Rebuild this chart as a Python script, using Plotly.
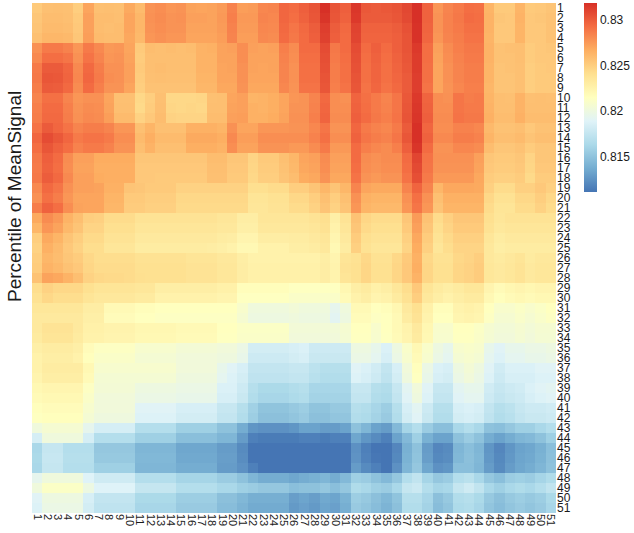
import numpy as np
import plotly.graph_objects as go

# Mean signal values, in units of 1e-4
# (row 1 = top row "1", column 1 = left column "1").
MEAN_SIGNAL_E4 = [
    [8252,8257,8258,8257,8250,8270,8257,8258,8257,8268,8260,8277,8279,8276,8277,8271,8270,8271,8274,8284,8273,8274,8282,8283,8295,8293,8298,8303,8318,8303,8298,8315,8301,8300,8301,8303,8308,8318,8297,8276,8283,8287,8292,8291,8263,8252,8252,8263,8252,8253,8255],
    [8254,8259,8259,8258,8252,8272,8259,8259,8258,8270,8262,8278,8280,8277,8278,8272,8272,8271,8275,8285,8275,8275,8283,8282,8295,8292,8297,8302,8316,8302,8297,8314,8300,8300,8300,8302,8307,8318,8297,8277,8284,8288,8293,8292,8264,8254,8253,8264,8253,8254,8256],
    [8255,8260,8260,8259,8253,8272,8259,8258,8259,8270,8262,8277,8279,8277,8277,8271,8271,8271,8274,8284,8274,8274,8282,8281,8294,8289,8294,8299,8312,8299,8294,8310,8297,8297,8297,8299,8304,8317,8296,8277,8284,8287,8291,8291,8264,8253,8253,8263,8253,8253,8256],
    [8257,8262,8262,8261,8254,8273,8260,8259,8259,8269,8261,8276,8278,8276,8276,8270,8270,8270,8273,8283,8273,8273,8281,8280,8293,8288,8293,8298,8311,8298,8293,8309,8296,8296,8296,8298,8303,8317,8295,8276,8283,8286,8290,8290,8263,8253,8253,8263,8253,8253,8256],
    [8278,8287,8287,8284,8276,8287,8281,8275,8276,8270,8252,8259,8258,8259,8258,8259,8264,8265,8271,8272,8279,8272,8271,8272,8285,8280,8293,8293,8306,8288,8293,8306,8293,8298,8293,8298,8303,8314,8292,8272,8280,8285,8288,8288,8264,8256,8257,8258,8251,8253,8254],
    [8281,8292,8292,8289,8278,8290,8283,8276,8277,8271,8251,8258,8258,8258,8258,8258,8264,8264,8271,8271,8279,8271,8271,8271,8284,8279,8292,8292,8305,8287,8292,8305,8292,8297,8292,8297,8302,8313,8292,8271,8279,8284,8287,8287,8264,8256,8256,8258,8251,8253,8253],
    [8287,8300,8300,8295,8281,8294,8286,8278,8278,8272,8252,8258,8259,8258,8258,8258,8264,8264,8270,8271,8278,8271,8270,8271,8283,8278,8291,8291,8304,8286,8291,8304,8291,8296,8291,8296,8301,8313,8291,8270,8278,8283,8286,8286,8263,8255,8256,8257,8250,8252,8253],
    [8288,8302,8301,8296,8282,8295,8287,8279,8278,8272,8251,8257,8258,8257,8257,8257,8263,8263,8270,8270,8278,8270,8270,8270,8283,8278,8291,8291,8303,8286,8291,8303,8291,8296,8291,8295,8300,8312,8291,8270,8278,8283,8286,8286,8263,8255,8255,8257,8250,8252,8252],
    [8286,8300,8299,8294,8280,8293,8285,8277,8277,8270,8250,8256,8256,8256,8256,8256,8262,8262,8269,8269,8277,8269,8269,8269,8282,8277,8290,8290,8302,8285,8290,8302,8290,8295,8290,8294,8300,8312,8290,8270,8277,8282,8285,8285,8262,8255,8255,8257,8250,8252,8252],
    [8283,8291,8291,8283,8276,8278,8278,8270,8257,8257,8245,8250,8257,8245,8245,8245,8246,8257,8258,8270,8272,8263,8264,8266,8270,8276,8277,8283,8294,8279,8278,8296,8291,8287,8283,8289,8301,8314,8296,8279,8278,8289,8286,8287,8263,8258,8257,8264,8257,8258,8257],
    [8285,8293,8293,8285,8277,8280,8279,8271,8258,8258,8244,8251,8258,8246,8245,8246,8245,8258,8258,8271,8272,8265,8264,8266,8270,8277,8277,8284,8295,8279,8279,8297,8292,8287,8284,8289,8302,8315,8297,8279,8279,8289,8287,8287,8264,8258,8258,8264,8258,8258,8258],
    [8286,8294,8294,8286,8278,8281,8280,8273,8260,8260,8248,8253,8259,8248,8247,8247,8247,8259,8259,8272,8273,8265,8265,8267,8271,8278,8278,8285,8296,8280,8280,8298,8293,8288,8285,8290,8303,8316,8298,8280,8280,8290,8288,8288,8265,8259,8259,8265,8259,8259,8259],
    [8290,8300,8295,8290,8283,8286,8286,8283,8276,8276,8257,8263,8257,8257,8257,8265,8265,8265,8263,8278,8270,8270,8276,8276,8276,8277,8277,8282,8289,8277,8277,8295,8287,8284,8282,8287,8300,8318,8295,8279,8279,8284,8284,8282,8261,8256,8256,8258,8253,8256,8256],
    [8295,8306,8301,8295,8287,8290,8290,8287,8279,8279,8260,8266,8260,8260,8260,8268,8268,8268,8266,8281,8273,8273,8279,8279,8279,8279,8279,8284,8291,8279,8279,8297,8289,8286,8284,8289,8302,8319,8297,8281,8281,8286,8286,8284,8263,8258,8258,8260,8255,8258,8258],
    [8292,8302,8297,8292,8284,8287,8287,8284,8277,8277,8258,8264,8258,8258,8258,8266,8266,8266,8264,8279,8271,8271,8277,8277,8277,8275,8275,8280,8287,8275,8275,8293,8285,8282,8280,8285,8298,8316,8293,8277,8277,8282,8282,8280,8259,8254,8254,8256,8251,8254,8254],
    [8288,8298,8293,8280,8272,8272,8267,8267,8267,8267,8254,8254,8254,8254,8254,8254,8254,8259,8259,8254,8254,8247,8252,8252,8257,8262,8270,8272,8280,8272,8272,8293,8280,8278,8280,8280,8293,8309,8290,8278,8278,8278,8278,8272,8254,8252,8252,8254,8247,8254,8254],
    [8287,8297,8292,8279,8271,8271,8266,8266,8266,8266,8253,8253,8253,8253,8253,8253,8253,8258,8258,8253,8253,8246,8251,8251,8256,8261,8269,8271,8279,8271,8271,8292,8279,8277,8279,8279,8292,8307,8289,8277,8277,8277,8277,8271,8253,8251,8251,8253,8246,8253,8253],
    [8288,8299,8294,8281,8272,8272,8267,8266,8266,8266,8253,8253,8252,8252,8252,8252,8252,8257,8257,8252,8252,8245,8250,8250,8255,8259,8267,8269,8277,8269,8269,8290,8277,8275,8277,8277,8290,8305,8287,8275,8275,8275,8275,8269,8251,8249,8249,8251,8244,8251,8251],
    [8281,8294,8289,8278,8272,8272,8271,8265,8265,8255,8254,8252,8252,8252,8248,8248,8248,8248,8248,8248,8248,8241,8241,8243,8243,8250,8250,8255,8262,8255,8262,8283,8270,8268,8268,8268,8283,8296,8283,8262,8269,8269,8269,8268,8249,8243,8243,8249,8249,8253,8249],
    [8278,8291,8286,8276,8270,8270,8270,8263,8263,8252,8252,8250,8250,8250,8245,8245,8245,8245,8245,8245,8245,8237,8237,8239,8239,8245,8245,8250,8257,8250,8257,8278,8265,8263,8263,8263,8278,8291,8278,8257,8265,8265,8265,8265,8245,8239,8239,8245,8245,8250,8245],
    [8286,8297,8292,8279,8271,8270,8270,8262,8262,8251,8251,8249,8249,8249,8244,8244,8244,8244,8244,8244,8244,8236,8236,8238,8238,8243,8243,8248,8255,8248,8255,8276,8263,8261,8261,8261,8276,8289,8276,8255,8263,8263,8263,8263,8243,8237,8237,8243,8243,8248,8243],
    [8268,8280,8275,8264,8258,8250,8249,8243,8243,8243,8238,8238,8238,8238,8238,8238,8238,8238,8236,8236,8230,8230,8236,8236,8236,8236,8236,8238,8241,8228,8238,8256,8246,8243,8243,8243,8254,8274,8256,8243,8249,8254,8254,8254,8241,8236,8238,8238,8238,8238,8238],
    [8262,8276,8271,8261,8255,8247,8247,8241,8241,8241,8236,8236,8236,8236,8236,8236,8236,8236,8234,8234,8228,8228,8234,8234,8234,8234,8234,8236,8239,8226,8236,8254,8244,8241,8241,8241,8252,8272,8254,8241,8247,8252,8252,8252,8239,8234,8236,8236,8236,8236,8236],
    [8250,8268,8263,8255,8250,8244,8244,8238,8238,8238,8233,8233,8233,8233,8233,8233,8233,8233,8231,8230,8224,8224,8230,8230,8230,8231,8231,8233,8236,8223,8233,8251,8241,8238,8238,8238,8249,8269,8251,8238,8244,8249,8249,8249,8236,8231,8233,8233,8233,8233,8233],
    [8248,8265,8260,8253,8248,8242,8242,8236,8236,8236,8231,8231,8231,8231,8231,8231,8231,8230,8228,8226,8221,8221,8226,8226,8226,8229,8229,8231,8234,8221,8231,8249,8239,8236,8236,8236,8247,8267,8249,8236,8242,8247,8247,8247,8234,8229,8231,8231,8231,8231,8231],
    [8250,8262,8259,8254,8251,8245,8242,8242,8242,8242,8239,8239,8239,8239,8239,8237,8237,8237,8234,8234,8229,8226,8226,8226,8226,8226,8226,8226,8229,8224,8237,8239,8245,8239,8239,8245,8252,8265,8245,8239,8239,8245,8247,8250,8234,8232,8234,8237,8232,8234,8234],
    [8251,8264,8261,8256,8253,8246,8243,8243,8243,8243,8240,8240,8240,8240,8240,8238,8238,8238,8235,8235,8230,8227,8227,8227,8227,8227,8227,8227,8230,8225,8238,8240,8246,8240,8240,8246,8253,8266,8246,8240,8240,8246,8248,8251,8235,8233,8235,8238,8233,8235,8235],
    [8256,8271,8269,8264,8258,8248,8245,8244,8244,8243,8241,8240,8240,8240,8240,8238,8238,8238,8235,8235,8230,8227,8227,8227,8227,8227,8227,8227,8230,8225,8237,8240,8246,8240,8240,8246,8253,8264,8246,8240,8240,8246,8248,8251,8235,8233,8235,8238,8233,8235,8235],
    [8242,8248,8245,8245,8245,8240,8237,8237,8237,8237,8235,8235,8229,8229,8229,8229,8229,8229,8227,8227,8217,8217,8217,8217,8217,8214,8214,8214,8214,8214,8222,8229,8232,8227,8229,8235,8242,8253,8237,8232,8229,8232,8235,8235,8224,8219,8222,8224,8222,8224,8224],
    [8239,8245,8242,8242,8242,8237,8234,8234,8234,8234,8232,8232,8226,8226,8226,8226,8226,8226,8224,8224,8214,8214,8214,8214,8214,8211,8211,8211,8211,8211,8219,8226,8229,8224,8226,8232,8239,8250,8234,8229,8226,8229,8232,8232,8221,8216,8219,8221,8219,8221,8221],
    [8235,8235,8235,8235,8235,8230,8230,8220,8220,8220,8217,8217,8215,8215,8215,8215,8215,8215,8215,8215,8209,8202,8202,8202,8202,8204,8202,8202,8202,8194,8202,8220,8220,8215,8217,8222,8233,8240,8227,8217,8217,8225,8227,8225,8215,8209,8209,8212,8209,8212,8215],
    [8233,8233,8233,8233,8233,8228,8228,8218,8218,8218,8215,8215,8213,8213,8213,8213,8213,8213,8213,8213,8207,8200,8200,8200,8200,8202,8200,8200,8200,8192,8200,8218,8218,8213,8215,8220,8231,8238,8225,8215,8215,8223,8225,8223,8213,8207,8207,8210,8207,8210,8213],
    [8233,8238,8238,8238,8233,8227,8227,8225,8225,8225,8222,8222,8222,8222,8220,8220,8220,8220,8215,8215,8212,8212,8212,8212,8212,8204,8204,8204,8204,8204,8207,8215,8215,8209,8215,8220,8225,8233,8222,8209,8209,8215,8215,8212,8207,8204,8204,8207,8204,8207,8207],
    [8232,8237,8237,8237,8232,8226,8226,8224,8224,8224,8221,8221,8221,8221,8219,8219,8219,8219,8214,8214,8211,8211,8211,8211,8211,8203,8203,8203,8203,8203,8206,8214,8214,8208,8214,8219,8224,8232,8221,8208,8208,8214,8214,8211,8206,8203,8203,8206,8203,8206,8206],
    [8228,8231,8231,8231,8228,8218,8213,8213,8213,8213,8208,8208,8208,8208,8205,8205,8205,8205,8203,8203,8198,8183,8183,8183,8183,8185,8187,8180,8180,8180,8180,8200,8200,8195,8187,8200,8210,8221,8210,8200,8195,8208,8210,8208,8195,8190,8195,8195,8198,8198,8200],
    [8226,8229,8229,8229,8226,8216,8211,8211,8211,8211,8206,8206,8206,8206,8203,8203,8203,8203,8201,8201,8196,8180,8180,8180,8180,8183,8185,8178,8178,8178,8178,8198,8198,8193,8185,8198,8208,8219,8208,8198,8193,8206,8208,8206,8193,8188,8193,8193,8196,8196,8198],
    [8226,8231,8231,8231,8231,8221,8208,8208,8208,8208,8208,8208,8208,8208,8203,8203,8203,8203,8195,8190,8185,8175,8175,8175,8175,8177,8177,8172,8169,8169,8169,8190,8187,8182,8175,8185,8203,8216,8198,8187,8185,8200,8205,8200,8190,8182,8187,8187,8187,8190,8190],
    [8224,8229,8229,8229,8229,8219,8206,8206,8206,8206,8206,8206,8206,8206,8201,8201,8201,8201,8193,8188,8183,8173,8173,8173,8173,8175,8175,8170,8167,8167,8167,8188,8185,8180,8173,8183,8201,8214,8196,8185,8183,8198,8203,8198,8188,8180,8185,8185,8185,8188,8188],
    [8221,8223,8223,8223,8223,8213,8205,8205,8205,8205,8200,8200,8200,8200,8198,8198,8198,8198,8187,8187,8180,8169,8164,8164,8164,8167,8169,8162,8162,8162,8162,8177,8177,8169,8167,8177,8192,8203,8190,8177,8177,8192,8195,8195,8182,8177,8180,8182,8187,8190,8192],
    [8219,8221,8221,8221,8221,8211,8203,8203,8203,8203,8198,8198,8198,8198,8196,8196,8196,8196,8185,8185,8178,8167,8162,8162,8162,8165,8167,8160,8160,8160,8160,8175,8175,8167,8165,8175,8190,8201,8188,8175,8175,8190,8193,8193,8180,8175,8178,8180,8185,8188,8190],
    [8216,8218,8218,8218,8218,8208,8203,8203,8203,8203,8190,8190,8190,8190,8185,8185,8185,8185,8177,8177,8169,8159,8151,8151,8151,8154,8157,8151,8151,8154,8154,8169,8167,8162,8157,8169,8185,8192,8180,8169,8169,8185,8187,8185,8175,8169,8172,8177,8180,8180,8182],
    [8214,8216,8216,8216,8216,8206,8201,8201,8201,8201,8188,8188,8188,8188,8183,8183,8183,8183,8175,8175,8167,8157,8149,8149,8149,8152,8155,8149,8149,8152,8152,8167,8165,8160,8155,8167,8183,8190,8178,8167,8167,8183,8185,8183,8173,8167,8170,8175,8178,8178,8180],
    [8202,8207,8207,8207,8207,8194,8184,8184,8184,8184,8168,8168,8168,8168,8158,8158,8158,8158,8150,8150,8138,8127,8125,8125,8125,8127,8133,8133,8130,8130,8133,8150,8143,8133,8130,8145,8161,8168,8156,8148,8148,8163,8168,8163,8150,8148,8153,8158,8158,8163,8168],
    [8184,8202,8202,8202,8202,8184,8168,8168,8168,8168,8158,8158,8158,8158,8148,8148,8148,8148,8143,8143,8130,8117,8115,8115,8115,8115,8117,8117,8115,8117,8117,8135,8127,8122,8117,8133,8145,8158,8140,8133,8133,8150,8156,8150,8138,8133,8138,8143,8145,8150,8158],
    [8163,8176,8176,8168,8168,8168,8153,8153,8153,8153,8143,8143,8143,8143,8135,8135,8135,8135,8130,8130,8122,8109,8102,8102,8102,8099,8099,8104,8102,8104,8107,8125,8117,8112,8099,8120,8140,8150,8130,8120,8122,8143,8148,8143,8127,8120,8127,8133,8135,8140,8148],
    [8164,8177,8177,8169,8169,8169,8154,8154,8154,8154,8144,8144,8144,8144,8136,8136,8136,8136,8131,8131,8123,8110,8103,8103,8103,8100,8100,8105,8103,8105,8108,8126,8118,8113,8100,8121,8141,8151,8131,8121,8123,8144,8149,8144,8128,8121,8128,8134,8136,8141,8149],
    [8163,8176,8176,8168,8168,8168,8158,8158,8158,8158,8143,8143,8143,8143,8138,8138,8138,8138,8130,8130,8125,8117,8109,8109,8109,8104,8104,8107,8107,8112,8112,8130,8122,8117,8107,8125,8143,8153,8135,8125,8127,8148,8148,8143,8130,8122,8130,8135,8138,8143,8150],
    [8194,8202,8202,8202,8202,8189,8181,8181,8181,8181,8168,8168,8168,8168,8161,8161,8161,8161,8156,8156,8150,8143,8138,8138,8138,8135,8138,8140,8143,8138,8145,8158,8156,8150,8145,8153,8168,8174,8161,8153,8156,8168,8171,8163,8153,8148,8156,8158,8156,8161,8166],
    [8202,8212,8212,8212,8212,8199,8189,8189,8189,8189,8176,8176,8176,8176,8168,8168,8168,8168,8163,8163,8158,8156,8153,8153,8153,8148,8150,8150,8153,8148,8153,8166,8163,8158,8156,8163,8176,8179,8168,8161,8163,8176,8181,8174,8163,8158,8163,8166,8163,8168,8174],
    [8190,8200,8200,8200,8200,8185,8175,8175,8175,8175,8164,8164,8164,8164,8157,8157,8157,8157,8149,8149,8144,8139,8139,8139,8139,8131,8134,8131,8136,8134,8141,8157,8154,8149,8144,8151,8169,8169,8162,8149,8154,8167,8169,8164,8154,8149,8154,8157,8154,8157,8164],
    [8188,8198,8198,8198,8198,8183,8173,8173,8173,8173,8162,8162,8162,8162,8155,8155,8155,8155,8147,8147,8142,8137,8137,8137,8137,8129,8132,8129,8134,8132,8139,8155,8152,8147,8142,8149,8167,8167,8160,8147,8152,8165,8167,8162,8152,8147,8152,8155,8152,8155,8162],
]

COLUMNS = list(range(1, 52))          # x categories 1..51
ROWS = list(range(1, 52))             # percentile rows 1..51
COLORBAR_TICKS = [0.815, 0.82, 0.825, 0.83]
Z_MIN, Z_MAX = 0.8112, 0.8318

for i, r in enumerate(MEAN_SIGNAL_E4):
    if len(r) != 51:
        raise ValueError(f"row {i+1} has {len(r)} values")

z = np.array(MEAN_SIGNAL_E4, dtype=float) / 1e4

RDYLBU_9 = ["#4575b4", "#74add1", "#abd9e9", "#e0f3f8", "#ffffbf",
            "#fee090", "#fdae61", "#f46d43", "#d73027"]
colorscale = [[i / 8, c] for i, c in enumerate(RDYLBU_9)]

FONT = "Liberation Sans, Arial, sans-serif"
TXT = "#1a1a1a"

fig = go.Figure(go.Heatmap(
    z=z, x=COLUMNS, y=ROWS,
    colorscale=colorscale, zmin=Z_MIN, zmax=Z_MAX,
    xgap=0, ygap=0,
    colorbar=dict(
        x=1.053, xanchor="left", xpad=0,
        y=1.0, yanchor="top", ypad=0,
        len=189, lenmode="pixels",
        thickness=13, outlinewidth=0,
        tickmode="array",
        tickvals=COLORBAR_TICKS,
        ticktext=[f"{t:g}" for t in COLORBAR_TICKS],
        ticks="",
        tickfont=dict(family=FONT, size=12, color=TXT),
    ),
))

fig.update_layout(
    width=634, height=533,
    margin=dict(l=32, r=78, t=3, b=20, autoexpand=False),
    paper_bgcolor="white", plot_bgcolor="white",
    font=dict(family=FONT, color=TXT),
    showlegend=False,
    xaxis=dict(
        range=[0.5, 51.5], tickmode="array", tickvals=COLUMNS,
        ticktext=[str(c) for c in COLUMNS], tickangle=90,
        showgrid=False, zeroline=False, showline=False, ticks="",
        automargin=False,
        tickfont=dict(family=FONT, size=11, color=TXT),
    ),
    yaxis=dict(
        range=[51.5, 0.5], side="right", tickmode="array", tickvals=ROWS,
        ticktext=[str(r) for r in ROWS],
        showgrid=False, zeroline=False, showline=False, ticks="",
        automargin=False,
        tickfont=dict(family=FONT, size=12, color=TXT),
    ),
    annotations=[dict(
        text="Percentile of MeanSignal", xref="paper", yref="paper",
        x=-0.032, y=0.62, xanchor="center", yanchor="middle",
        textangle=-90, showarrow=False,
        font=dict(family=FONT, size=19, color=TXT),
    )],
)

# The page's default 8px body margin would shift the figure; remove it.
fig.write_html(
    "out.html",
    config={"displayModeBar": False},
    post_script="document.body.style.margin='0px';document.body.style.overflow='hidden';",
)
